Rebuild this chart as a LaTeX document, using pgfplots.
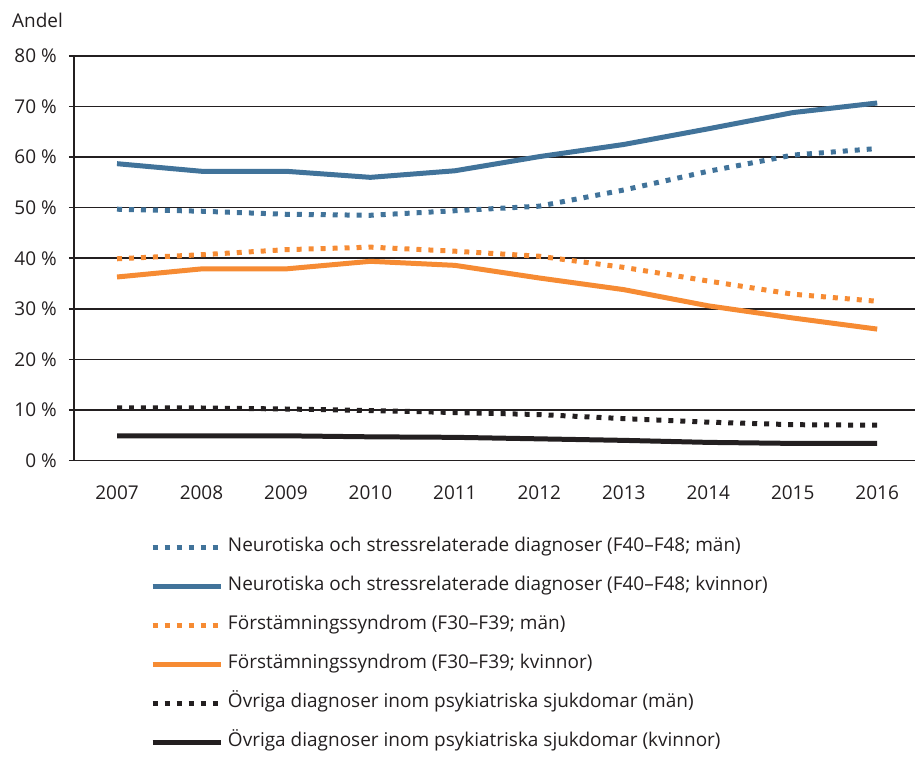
\documentclass[border=0pt]{standalone}
\usepackage{pgfplots}
\pgfplotsset{compat=1.18}
\usepackage{fontspec}
\setmainfont{Open Sans}
\definecolor{cblue}{HTML}{41739A}
\definecolor{corange}{HTML}{F68B33}
\definecolor{cblack}{HTML}{231F20}
\begin{document}
\begin{tikzpicture}
\begin{axis}[name=ax, at={(0,0)}, anchor=south west,
  scale only axis, width=842pt, height=405pt,
  xmin=-0.51, xmax=9.45, ymin=0, ymax=80,
  axis lines*=left,
  axis line style={cblack, line width=1.6pt},
  xtick={0,1,2,3,4,5,6,7,8,9},
  xticklabels={2007,2008,2009,2010,2011,2012,2013,2014,2015,2016},
  xtick style={draw=none},
  ytick={0,10,20,30,40,50,60,70,80},
  yticklabel={\pgfmathprintnumber{\tick}\ \%},
  tick align=outside, major tick length=5pt,
  ytick style={cblack, line width=1.6pt},
  ymajorgrids, grid style={cblack, line width=1.6pt},
  /pgf/number format/assume math mode=true,
  tick label style={font=\fontsize{19}{19}\selectfont, text=cblack},
  yticklabel style={inner sep=0pt, xshift=-12pt},
  xticklabel style={inner sep=0pt, yshift=-20pt},
  legend style={at={(rel axis cs:0,0)}, anchor=north west, xshift=76pt, yshift=-78pt,
    draw=none, fill=none, inner sep=0pt, row sep=22pt, column sep=5pt,
    font=\fontsize{19}{19}\selectfont, text=cblack,
    nodes={inner sep=0pt, text height=13pt, text depth=4pt}},
  legend cell align=left,
  legend image code/.code={\draw[#1] (0pt,0pt) -- (68pt,0pt);},
  every axis plot/.append style={line width=5pt, line cap=butt, line join=round},
  clip=false,
]
\addplot[cblue, dash pattern=on 5pt off 7pt] coordinates {
(0,49.7) (1,49.3) (2,48.7) (3,48.5) (4,49.4) (5,50.3) (6,53.5) (7,57.2) (8,60.4) (9,61.7)};
\addlegendentry{Neurotiska och stressrelaterade diagnoser (F40–F48; män)}
\addplot[cblue] coordinates {
(0,58.7) (1,57.2) (2,57.2) (3,56.0) (4,57.3) (5,60.1) (6,62.5) (7,65.6) (8,68.8) (9,70.7)};
\addlegendentry{Neurotiska och stressrelaterade diagnoser (F40–F48; kvinnor)}
\addplot[corange, dash pattern=on 5pt off 7pt] coordinates {
(0,39.9) (1,40.7) (2,41.7) (3,42.2) (4,41.4) (5,40.4) (6,38.2) (7,35.5) (8,32.9) (9,31.5)};
\addlegendentry{Förstämningssyndrom (F30–F39; män)}
\addplot[corange] coordinates {
(0,36.3) (1,37.9) (2,37.9) (3,39.4) (4,38.6) (5,36.1) (6,33.8) (7,30.6) (8,28.2) (9,26.0)};
\addlegendentry{Förstämningssyndrom (F30–F39; kvinnor)}
\addplot[cblack, dash pattern=on 5pt off 7pt] coordinates {
(0,10.4) (1,10.4) (2,10.2) (3,9.9) (4,9.5) (5,9.1) (6,8.3) (7,7.6) (8,7.1) (9,7.0)};
\addlegendentry{Övriga diagnoser inom psykiatriska sjukdomar (män)}
\addplot[cblack] coordinates {
(0,4.9) (1,4.9) (2,4.9) (3,4.7) (4,4.6) (5,4.3) (6,4.0) (7,3.6) (8,3.4) (9,3.4)};
\addlegendentry{Övriga diagnoser inom psykiatriska sjukdomar (kvinnor)}
\end{axis}
\node[anchor=west, inner sep=0pt, font=\fontsize{19}{19}\selectfont, text=cblack] at (-62pt,441pt) {Andel};
\path[use as bounding box] (-74pt,-296pt) rectangle (842pt,461pt);
\end{tikzpicture}
\end{document}
